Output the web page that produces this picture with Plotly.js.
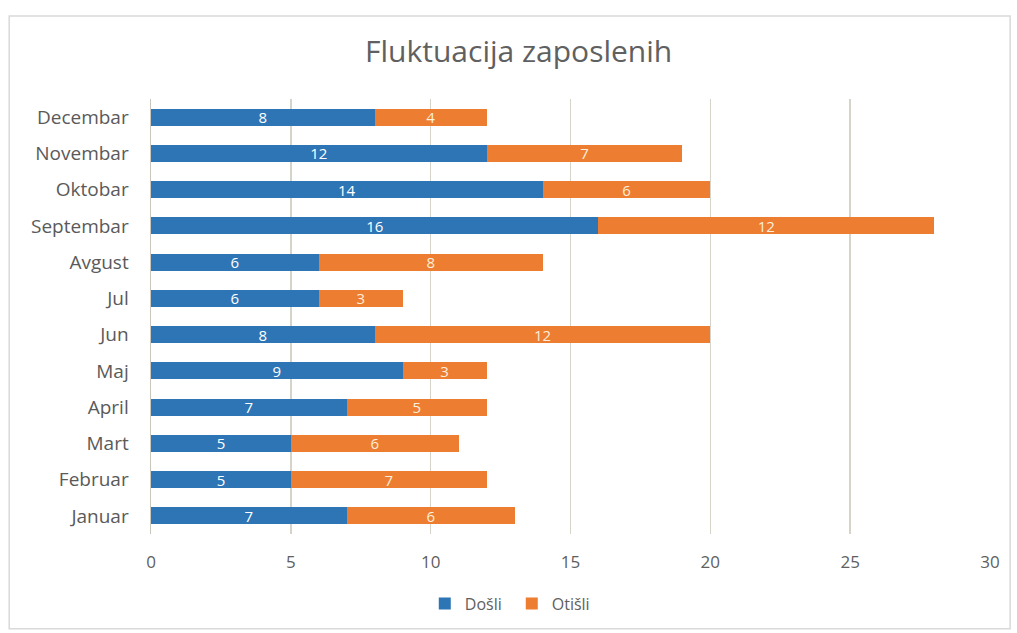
<!DOCTYPE html>
<html>
<head>
<meta charset="utf-8">
<script src="https://cdn.plot.ly/plotly-3.0.1.min.js"></script>
<style>html,body{margin:0;padding:0;background:#fff;}#chart{width:1017px;height:633px;}</style>
</head>
<body>
<div id="chart"></div>
<script>
const months = ["Januar","Februar","Mart","April","Maj","Jun","Jul","Avgust","Septembar","Oktobar","Novembar","Decembar"];
const dosli = [7,5,5,7,9,8,6,6,16,14,12,8];
const otisli = [6,7,6,5,3,12,3,8,12,6,7,4];
const xTicks = [0,5,10,15,20,25,30];

const FONT = '"Open Sans", sans-serif';
const common = {type:'bar', orientation:'h', y: months, textposition:'inside', insidetextanchor:'middle', textangle:0,
  constraintext:'none', hoverinfo:'x+y'};
const data = [
  Object.assign({}, common, {name:'Došli', x: dosli, text: dosli.map(String), marker:{color:'#2e75b6'},
    textfont:{family:FONT, size:15, color:'#ffffff'}}),
  Object.assign({}, common, {name:'Otišli', x: otisli, text: otisli.map(String), marker:{color:'#ed7d31'},
    textfont:{family:FONT, size:15, color:'#fcefd9'}})
];
const layout = {
  width:1017, height:633,
  margin:{l:151, r:27, t:99, b:96},
  paper_bgcolor:'#ffffff', plot_bgcolor:'#ffffff',
  barmode:'stack', bargap:0.53,
  font:{family:FONT, color:'#595959'},
  title:{text:'Fluktuacija zaposlenih', font:{size:30, color:'#606060', family:FONT}, x:0.51, xanchor:'center', yref:'container', y:0.918, yanchor:'middle'},
  xaxis:{range:[0,30], tickvals:xTicks, ticktext:xTicks.map(String), showgrid:true, gridcolor:'#d6d3c8', gridwidth:1.5,
    zeroline:false, showline:false, ticks:'', ticklabelstandoff:16, tickfont:{size:17, color:'#606060'}, fixedrange:true},
  yaxis:{categoryorder:'array', categoryarray:months, showgrid:false, zeroline:false, showline:true, linecolor:'#c9c6bb', linewidth:1.5,
    ticks:'', ticklabelstandoff:17, tickfont:{size:19, color:'#5a5a5a'}, fixedrange:true},
  showlegend:true,
  legend:{orientation:'h', x:0.43, xanchor:'center', y:-0.16, yanchor:'middle', font:{size:16, color:'#606060'}, traceorder:'normal', itemwidth:30, entrywidth:42, entrywidthmode:'pixels'},
  shapes:[{type:'rect', xref:'paper', yref:'paper', x0:-0.169, x1:1.024, y0:-0.218, y1:1.191, line:{color:'#d9d9d9', width:1.5}, fillcolor:'rgba(0,0,0,0)', layer:'below'}]
};
Plotly.newPlot('chart', data, layout, {displayModeBar:false, staticPlot:true});
</script>
</body>
</html>
